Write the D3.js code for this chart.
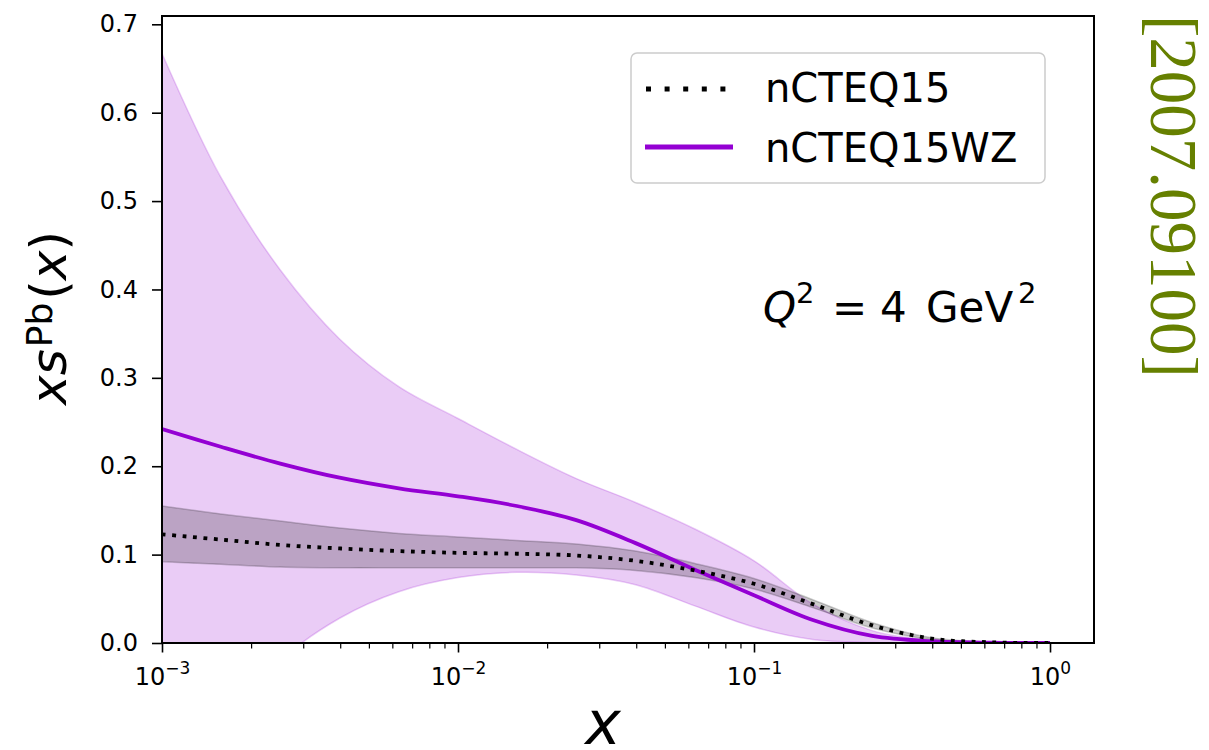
<!DOCTYPE html>
<html>
<head>
<meta charset="utf-8">
<script src="https://cdn.jsdelivr.net/npm/d3@7"></script>
<style>
  html, body { margin: 0; padding: 0; background: #fff; }
  svg { display: block; font-family: "DejaVu Sans", sans-serif; }
</style>
</head>
<body>
<svg id="chart" width="1209" height="750"></svg>
<script>
// ---- data ----
const xValues = [0.001, 0.00158, 0.00251, 0.00398, 0.00631, 0.01, 0.0158, 0.0251, 0.0398, 0.0631, 0.1, 0.158, 0.251, 0.398, 0.631, 1.0];
// nCTEQ15 (black dotted) central value and uncertainty band
const nCTEQ15Central = [0.123, 0.117, 0.111, 0.107, 0.104, 0.102, 0.101, 0.099, 0.093, 0.082, 0.067, 0.044, 0.020, 0.005, 0.0008, 0.0];
const nCTEQ15Upper   = [0.155, 0.146, 0.138, 0.130, 0.124, 0.120, 0.116, 0.112, 0.104, 0.090, 0.073, 0.049, 0.023, 0.006, 0.001, 0.0];
const nCTEQ15Lower   = [0.092, 0.089, 0.086, 0.085, 0.085, 0.085, 0.085, 0.085, 0.082, 0.074, 0.061, 0.040, 0.017, 0.004, 0.0006, 0.0];
// nCTEQ15WZ (purple solid) central value and uncertainty band
const nCTEQ15WZCentral = [0.242, 0.222, 0.203, 0.187, 0.175, 0.166, 0.155, 0.139, 0.113, 0.083, 0.054, 0.026, 0.008, 0.002, 0.0003, 0.0];
const nCTEQ15WZUpper   = [0.667, 0.527, 0.422, 0.344, 0.290, 0.254, 0.219, 0.186, 0.159, 0.129, 0.093, 0.044, 0.014, 0.003, 0.0005, 0.0];
const nCTEQ15WZLower   = [-0.20, -0.10, -0.02, 0.028, 0.058, 0.074, 0.080, 0.077, 0.066, 0.042, 0.018, 0.004, 0.0005, 0.0, 0.0, 0.0];
// axis ticks
const yTicks = [0.0, 0.1, 0.2, 0.3, 0.4, 0.5, 0.6, 0.7];
const xMajorTicks = [0.001, 0.01, 0.1, 1];
const xMajorLabels = ["\u22123", "\u22122", "\u22121", "0"];
const legendLabels = ["nCTEQ15", "nCTEQ15WZ"];

// ---- layout ----
const pL = 162, pR = 1094, pT = 16, pB = 643;
const purple = "#9400d3";

const svg = d3.select("#chart");
const x = d3.scaleLog().domain([0.001, 1.408]).range([pL, pR]);
const y = d3.scaleLinear().domain([0, 0.7094]).range([pB, pT]);

svg.append("defs").append("clipPath").attr("id", "clip")
  .append("rect").attr("x", pL).attr("y", pT).attr("width", pR - pL).attr("height", pB - pT);

const plot = svg.append("g").attr("clip-path", "url(#clip)");

const idx = d3.range(xValues.length);
const curve = d3.curveCatmullRom.alpha(0.5);
const area = (lo, hi) => d3.area()
  .x(i => x(xValues[i])).y0(i => y(lo[i])).y1(i => y(hi[i]))
  .curve(curve);
const line = (v) => d3.line()
  .x(i => x(xValues[i])).y(i => y(v[i]))
  .curve(curve);

// WZ band
plot.append("path").attr("d", area(nCTEQ15WZLower, nCTEQ15WZUpper)(idx))
  .attr("fill", purple).attr("fill-opacity", 0.2)
  .attr("stroke", purple).attr("stroke-opacity", 0.2).attr("stroke-width", 1.5);
// nCTEQ15 band
plot.append("path").attr("d", area(nCTEQ15Lower, nCTEQ15Upper)(idx))
  .attr("fill", "#000").attr("fill-opacity", 0.2)
  .attr("stroke", "#000").attr("stroke-opacity", 0.2).attr("stroke-width", 1.5);
// WZ central
plot.append("path").attr("d", line(nCTEQ15WZCentral)(idx))
  .attr("fill", "none").attr("stroke", purple).attr("stroke-width", 3.8);
// nCTEQ15 central
plot.append("path").attr("d", line(nCTEQ15Central)(idx))
  .attr("fill", "none").attr("stroke", "#000").attr("stroke-width", 3.8)
  .attr("stroke-dasharray", "3.8,6.6");

// ---- axes ----
const yAxis = svg.append("g").attr("transform", `translate(${pL},0)`)
  .call(d3.axisLeft(y).tickValues(yTicks).tickFormat(d3.format(".1f")).tickSize(10).tickPadding(14));
yAxis.select(".domain").remove();
yAxis.selectAll("line").attr("stroke", "#000").attr("stroke-width", 1.6);
yAxis.selectAll("text").attr("font-size", 24).attr("font-family", "DejaVu Sans").attr("fill", "#000");

const minorTicks = [];
for (let d = 0.001; d < 1; d *= 10) for (let k = 2; k <= 9; k++) minorTicks.push(d * k);
const xMinor = svg.append("g").attr("transform", `translate(0,${pB})`)
  .call(d3.axisBottom(x).tickValues(minorTicks).tickFormat("").tickSize(5.5));
xMinor.select(".domain").remove();
xMinor.selectAll("line").attr("stroke", "#000").attr("stroke-width", 1.2);

const xAxis = svg.append("g").attr("transform", `translate(0,${pB})`)
  .call(d3.axisBottom(x).tickValues(xMajorTicks).tickFormat("").tickSize(9.5));
xAxis.select(".domain").remove();
xAxis.selectAll("line").attr("stroke", "#000").attr("stroke-width", 1.6);
xAxis.selectAll(".tick").each(function(d, i) {
  const t = d3.select(this).append("text").attr("y", 42).attr("fill", "#000")
    .attr("text-anchor", "middle").attr("font-size", 24).attr("font-family", "DejaVu Sans");
  t.append("tspan").text("10");
  t.append("tspan").attr("font-size", 17).attr("dy", -11).text(xMajorLabels[i]);
});

// frame
svg.append("rect").attr("x", pL).attr("y", pT).attr("width", pR - pL).attr("height", pB - pT)
  .attr("fill", "none").attr("stroke", "#000").attr("stroke-width", 2);

// axis labels
svg.append("text").attr("x", 603).attr("y", 744).attr("text-anchor", "middle")
  .attr("font-size", 60).attr("font-style", "italic").attr("font-family", "DejaVu Sans").text("x");

const yl = svg.append("text").attr("transform", "translate(66,318) rotate(-90)")
  .attr("text-anchor", "middle").attr("font-size", 50).attr("font-family", "DejaVu Sans");
yl.append("tspan").attr("font-style", "italic").text("xs");
yl.append("tspan").attr("font-size", 36).attr("dy", -14).attr("dx", 2).text("Pb");
yl.append("tspan").attr("dy", 14).attr("dx", 3).text("(");
yl.append("tspan").attr("font-style", "italic").text("x");
yl.append("tspan").text(")");

// Q^2 annotation
const q = svg.append("text").attr("y", 322).attr("font-size", 42).attr("font-family", "DejaVu Sans");
q.append("tspan").attr("x", 763).attr("font-style", "italic").text("Q");
q.append("tspan").attr("x", 796).attr("y", 303).attr("font-size", 29).text("2");
q.append("tspan").attr("x", 832).attr("y", 322).text("=");
q.append("tspan").attr("x", 880).text("4");
q.append("tspan").attr("x", 926).text("GeV");
q.append("tspan").attr("x", 1018).attr("y", 303).attr("font-size", 29).text("2");

// legend
const lg = svg.append("g");
lg.append("rect").attr("x", 631).attr("y", 53).attr("width", 414).attr("height", 130).attr("rx", 6)
  .attr("fill", "#fff").attr("fill-opacity", 0.8).attr("stroke", "#cccccc").attr("stroke-width", 1.5);
lg.append("line").attr("x1", 646).attr("x2", 733).attr("y1", 89).attr("y2", 89)
  .attr("stroke", "#000").attr("stroke-width", 5).attr("stroke-dasharray", "5,13.6");
lg.append("line").attr("x1", 645).attr("x2", 733).attr("y1", 147).attr("y2", 147)
  .attr("stroke", purple).attr("stroke-width", 4.8);
lg.selectAll("text.lab").data(legendLabels).enter().append("text").attr("class", "lab")
  .attr("x", 765).attr("y", (d, i) => 102 + i * 60).attr("font-size", 40)
  .attr("font-family", "DejaVu Sans").text(d => d);

// arXiv stamp
svg.append("text").attr("transform", "translate(1151,15) rotate(90)")
  .attr("font-family", "Liberation Serif, Times New Roman, serif").attr("font-size", 67)
  .attr("fill", "#668000").text("[2007.09100]");
</script>
</body>
</html>
